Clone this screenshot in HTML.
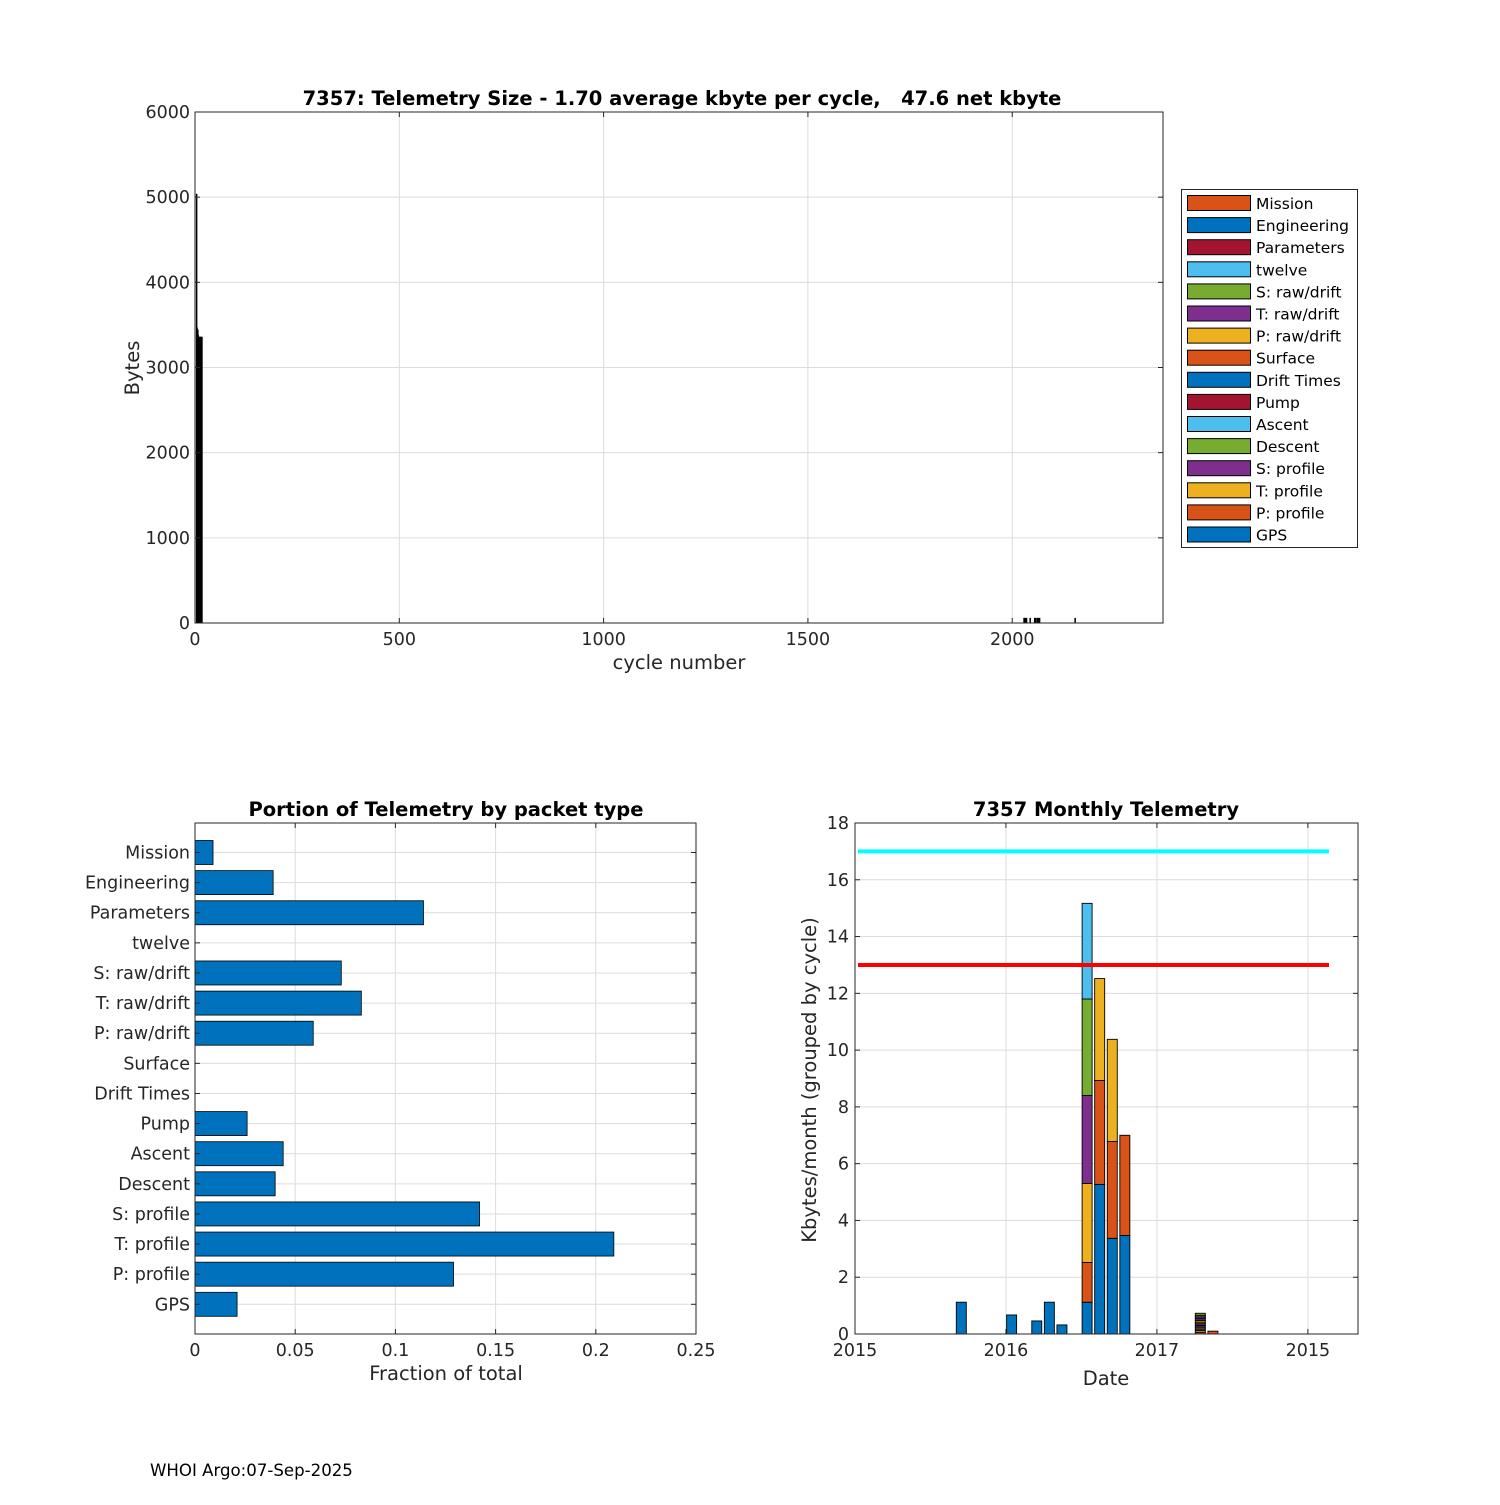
<!DOCTYPE html>
<html><head><meta charset="utf-8"><style>
body{margin:0;background:#fff;}
svg{font-family:"DejaVu Sans","Liberation Sans",sans-serif;}
</style></head><body>
<svg id="s" width="1500" height="1500" xmlns="http://www.w3.org/2000/svg"></svg>
<script>
// ---- Top chart data ----
const topCycles = [4,5,6,7,8,9,10,11,12,13,14,15,16,17,2029,2031,2033,2035,2044,2055,2057,2061,2063,2065,2067,2154];
const topBytes = [5040,3470,3450,3440,3380,3360,3360,3360,3360,3360,3360,3360,3360,3360,60,60,60,60,60,60,60,60,60,60,60,60];
const topXTicks = [0,500,1000,1500,2000];
const topYTicks = [0,1000,2000,3000,4000,5000,6000];
const legendLabels = ["Mission","Engineering","Parameters","twelve","S: raw/drift","T: raw/drift","P: raw/drift","Surface","Drift Times","Pump","Ascent","Descent","S: profile","T: profile","P: profile","GPS"];
const legendColors = ["#D95319","#0072BD","#A2142F","#4DBEEE","#77AC30","#7E2F8E","#EDB120","#D95319","#0072BD","#A2142F","#4DBEEE","#77AC30","#7E2F8E","#EDB120","#D95319","#0072BD"];
// ---- Bottom-left data ----
const packetFractions = [0.009,0.039,0.114,0,0.073,0.083,0.059,0,0,0.026,0.044,0.040,0.142,0.209,0.129,0.021];
const fracTicks = [0,0.05,0.1,0.15,0.2,0.25];
const fracTickLabels = ["0","0.05","0.1","0.15","0.2","0.25"];
// ---- Bottom-right data ----
const monthIdx = [8,12,14,15,16,18,19,20,21,27,28];
const monthStacks = [
 [1.12],[0.67],[0.46],[1.12],[0.32],
 [1.12,1.40,2.78,3.10,3.40,3.37],
 [5.27,3.66,3.59],
 [3.37,3.41,3.60],
 [3.47,3.53],
 [0.06,0.06,0.06,0.06,0.06,0.06,0.06,0.06,0.06,0.06,0.06,0.07],
 [0.1]
];
const stackColors = [
 ["#0072BD"],["#0072BD"],["#0072BD"],["#0072BD"],["#0072BD"],
 ["#0072BD","#D95319","#EDB120","#7E2F8E","#77AC30","#4DBEEE"],
 ["#0072BD","#D95319","#EDB120"],
 ["#0072BD","#D95319","#EDB120"],
 ["#0072BD","#D95319"],
 ["#D95319","#EDB120","#7E2F8E","#77AC30","#A2142F","#0072BD","#D95319","#EDB120","#7E2F8E","#0072BD","#D95319","#77AC30"],
 ["#D95319"]
];
const monthTicks = [0,12,24,36];
const monthTickLabels = ["2015","2016","2017","2015"];
const kbTicks = [0,2,4,6,8,10,12,14,16,18];
const cyanLevel = 17, redLevel = 13;

const S = document.getElementById('s');
const NS = 'http://www.w3.org/2000/svg';
function mk(tag, attrs, parent){const e=document.createElementNS(NS,tag);for(const k in attrs)e.setAttribute(k,attrs[k]);(parent||S).appendChild(e);return e;}
function txt(str, attrs, parent){const e=mk('text',attrs,parent);e.textContent=str;return e;}
const TF=17.5, AF=19.5, HF=19.5;

// ================= TOP =================
const T={x0:195,x1:1163,y0:112,y1:623,xmax:2369,ymax:6000};
const tx=v=>T.x0+v/T.xmax*(T.x1-T.x0), ty=v=>T.y1-v/T.ymax*(T.y1-T.y0);
const gTop=mk('g',{});


topXTicks.forEach(v=>{const l=mk('line',{x1:tx(v),x2:tx(v),y1:T.y0,y2:T.y1,stroke:'#dcdcdc'},gTop);});
topYTicks.forEach(v=>{const l=mk('line',{x1:T.x0,x2:T.x1,y1:ty(v),y2:ty(v),stroke:'#dcdcdc'},gTop);});
topCycles.forEach((c,i)=>{const w=1.5;const r=mk('rect',{x:tx(c)-w/2,y:ty(topBytes[i]),width:w,height:T.y1-ty(topBytes[i]),fill:'#000'},gTop);});
mk('rect',{x:T.x0,y:T.y0,width:T.x1-T.x0,height:T.y1-T.y0,fill:'none',stroke:'#262626'},gTop);
topXTicks.forEach(v=>{mk('line',{x1:tx(v),x2:tx(v),y1:T.y1,y2:T.y1-5,stroke:'#262626'},gTop);mk('line',{x1:tx(v),x2:tx(v),y1:T.y0,y2:T.y0+5,stroke:'#262626'},gTop);const t=txt(String(v),{x:tx(v),y:T.y1+22,'text-anchor':'middle','font-size':TF,fill:'#262626'},gTop);});
topYTicks.forEach(v=>{mk('line',{x1:T.x0,x2:T.x0+5,y1:ty(v),y2:ty(v),stroke:'#262626'},gTop);mk('line',{x1:T.x1,x2:T.x1-5,y1:ty(v),y2:ty(v),stroke:'#262626'},gTop);const t=txt(String(v),{x:T.x0-5,y:ty(v)+6,'text-anchor':'end','font-size':TF,fill:'#262626'},gTop);});

(function(){
let t=txt('7357: Telemetry Size - 1.70 average kbyte per cycle,   47.6 net kbyte',{x:682,y:105,'text-anchor':'middle','font-size':HF,'font-weight':'bold',fill:'#000',style:'white-space:pre'});

t=txt('cycle number',{x:679,y:669,'text-anchor':'middle','font-size':AF,fill:'#262626'});

t=txt('Bytes',{x:0,y:0,'text-anchor':'middle','font-size':AF,fill:'#262626',transform:'translate(139,368) rotate(-90)'});

const lg=mk('g',{});

mk('rect',{x:1181.5,y:189.5,width:176,height:358,fill:'#fff',stroke:'#262626'},lg);
legendLabels.forEach((lab,i)=>{const y=195+i*22.1;
 const r=mk('rect',{x:1187.5,y:y+0.5,width:63,height:15,fill:legendColors[i],stroke:'#000'},lg);
 
 const tt=txt(lab,{x:1256,y:y+14,'font-size':15.5,fill:'#000'},lg);
 });

// ================= BOTTOM LEFT =================
const B={x0:195,x1:696,y0:823,y1:1334,xmax:0.25};
const bx=v=>B.x0+v/B.xmax*(B.x1-B.x0);
const by=i=>852.5+i*30.12;
const gb=mk('g',{});

fracTicks.forEach(v=>mk('line',{x1:bx(v),x2:bx(v),y1:B.y0,y2:B.y1,stroke:'#dcdcdc'},gb));
packetFractions.forEach((v,i)=>mk('line',{x1:B.x0,x2:B.x1,y1:by(i),y2:by(i),stroke:'#dcdcdc'},gb));
packetFractions.forEach((v,i)=>{if(v<=0)return;const r=mk('rect',{x:B.x0,y:by(i)-12,width:bx(v)-B.x0,height:24,fill:'#0072BD',stroke:'#000','stroke-width':0.8},gb);});
mk('rect',{x:B.x0,y:B.y0,width:B.x1-B.x0,height:B.y1-B.y0,fill:'none',stroke:'#262626'},gb);
fracTicks.forEach((v,i)=>{mk('line',{x1:bx(v),x2:bx(v),y1:B.y1,y2:B.y1-5,stroke:'#262626'},gb);mk('line',{x1:bx(v),x2:bx(v),y1:B.y0,y2:B.y0+5,stroke:'#262626'},gb);const tt=txt(fracTickLabels[i],{x:bx(v),y:B.y1+22,'text-anchor':'middle','font-size':TF,fill:'#262626'},gb);});
legendLabels.forEach((lab,i)=>{mk('line',{x1:B.x0,x2:B.x0+5,y1:by(i),y2:by(i),stroke:'#262626'},gb);mk('line',{x1:B.x1,x2:B.x1-5,y1:by(i),y2:by(i),stroke:'#262626'},gb);const tt=txt(lab,{x:B.x0-5,y:by(i)+6,'text-anchor':'end','font-size':TF,fill:'#262626'},gb);});
t=txt('Portion of Telemetry by packet type',{x:446,y:816,'text-anchor':'middle','font-size':HF,'font-weight':'bold',fill:'#000'});

t=txt('Fraction of total',{x:446,y:1380,'text-anchor':'middle','font-size':AF,fill:'#262626'});


// ================= BOTTOM RIGHT =================
const R={x0:855,x1:1358,y0:823,y1:1334,ymax:18,pxPerMonth:12.58};
const rx=m=>R.x0+m*R.pxPerMonth, ry=v=>R.y1-v/R.ymax*(R.y1-R.y0);
const gr=mk('g',{});

monthTicks.forEach(m=>mk('line',{x1:rx(m),x2:rx(m),y1:R.y0,y2:R.y1,stroke:'#dcdcdc'},gr));
kbTicks.forEach(v=>mk('line',{x1:R.x0,x2:R.x1,y1:ry(v),y2:ry(v),stroke:'#dcdcdc'},gr));
monthIdx.forEach((m,i)=>{let acc=0;const cx=rx(m+0.45);monthStacks[i].forEach((h,j)=>{const r=mk('rect',{x:cx-5,y:ry(acc+h),width:10,height:ry(acc)-ry(acc+h),fill:stackColors[i][j],stroke:'#000','stroke-width':0.9},gr);acc+=h;});});
let l=mk('line',{x1:858,x2:1329,y1:ry(cyanLevel),y2:ry(cyanLevel),stroke:'#00FFFF','stroke-width':4},gr);

l=mk('line',{x1:858,x2:1329,y1:ry(redLevel),y2:ry(redLevel),stroke:'#FF0000','stroke-width':4},gr);

mk('rect',{x:R.x0,y:R.y0,width:R.x1-R.x0,height:R.y1-R.y0,fill:'none',stroke:'#262626'},gr);
monthTicks.forEach((m,i)=>{mk('line',{x1:rx(m),x2:rx(m),y1:R.y1,y2:R.y1-5,stroke:'#262626'},gr);mk('line',{x1:rx(m),x2:rx(m),y1:R.y0,y2:R.y0+5,stroke:'#262626'},gr);const tt=txt(monthTickLabels[i],{x:rx(m),y:R.y1+22,'text-anchor':'middle','font-size':TF,fill:'#262626'},gr);});
kbTicks.forEach(v=>{mk('line',{x1:R.x0,x2:R.x0+5,y1:ry(v),y2:ry(v),stroke:'#262626'},gr);mk('line',{x1:R.x1,x2:R.x1-5,y1:ry(v),y2:ry(v),stroke:'#262626'},gr);const tt=txt(String(v),{x:R.x0-6,y:ry(v)+6,'text-anchor':'end','font-size':TF,fill:'#262626'},gr);});
t=txt('7357 Monthly Telemetry',{x:1106,y:816,'text-anchor':'middle','font-size':HF,'font-weight':'bold',fill:'#000'});

t=txt('Date',{x:1106,y:1385,'text-anchor':'middle','font-size':AF,fill:'#262626'});

t=txt('Kbytes/month (grouped by cycle)',{x:0,y:0,'text-anchor':'middle','font-size':AF,fill:'#262626',transform:'translate(816,1080) rotate(-90)'});


t=txt('WHOI Argo:07-Sep-2025',{x:150,y:1476,'font-size':16.6,fill:'#000'});

})();
</script>
</body></html>
